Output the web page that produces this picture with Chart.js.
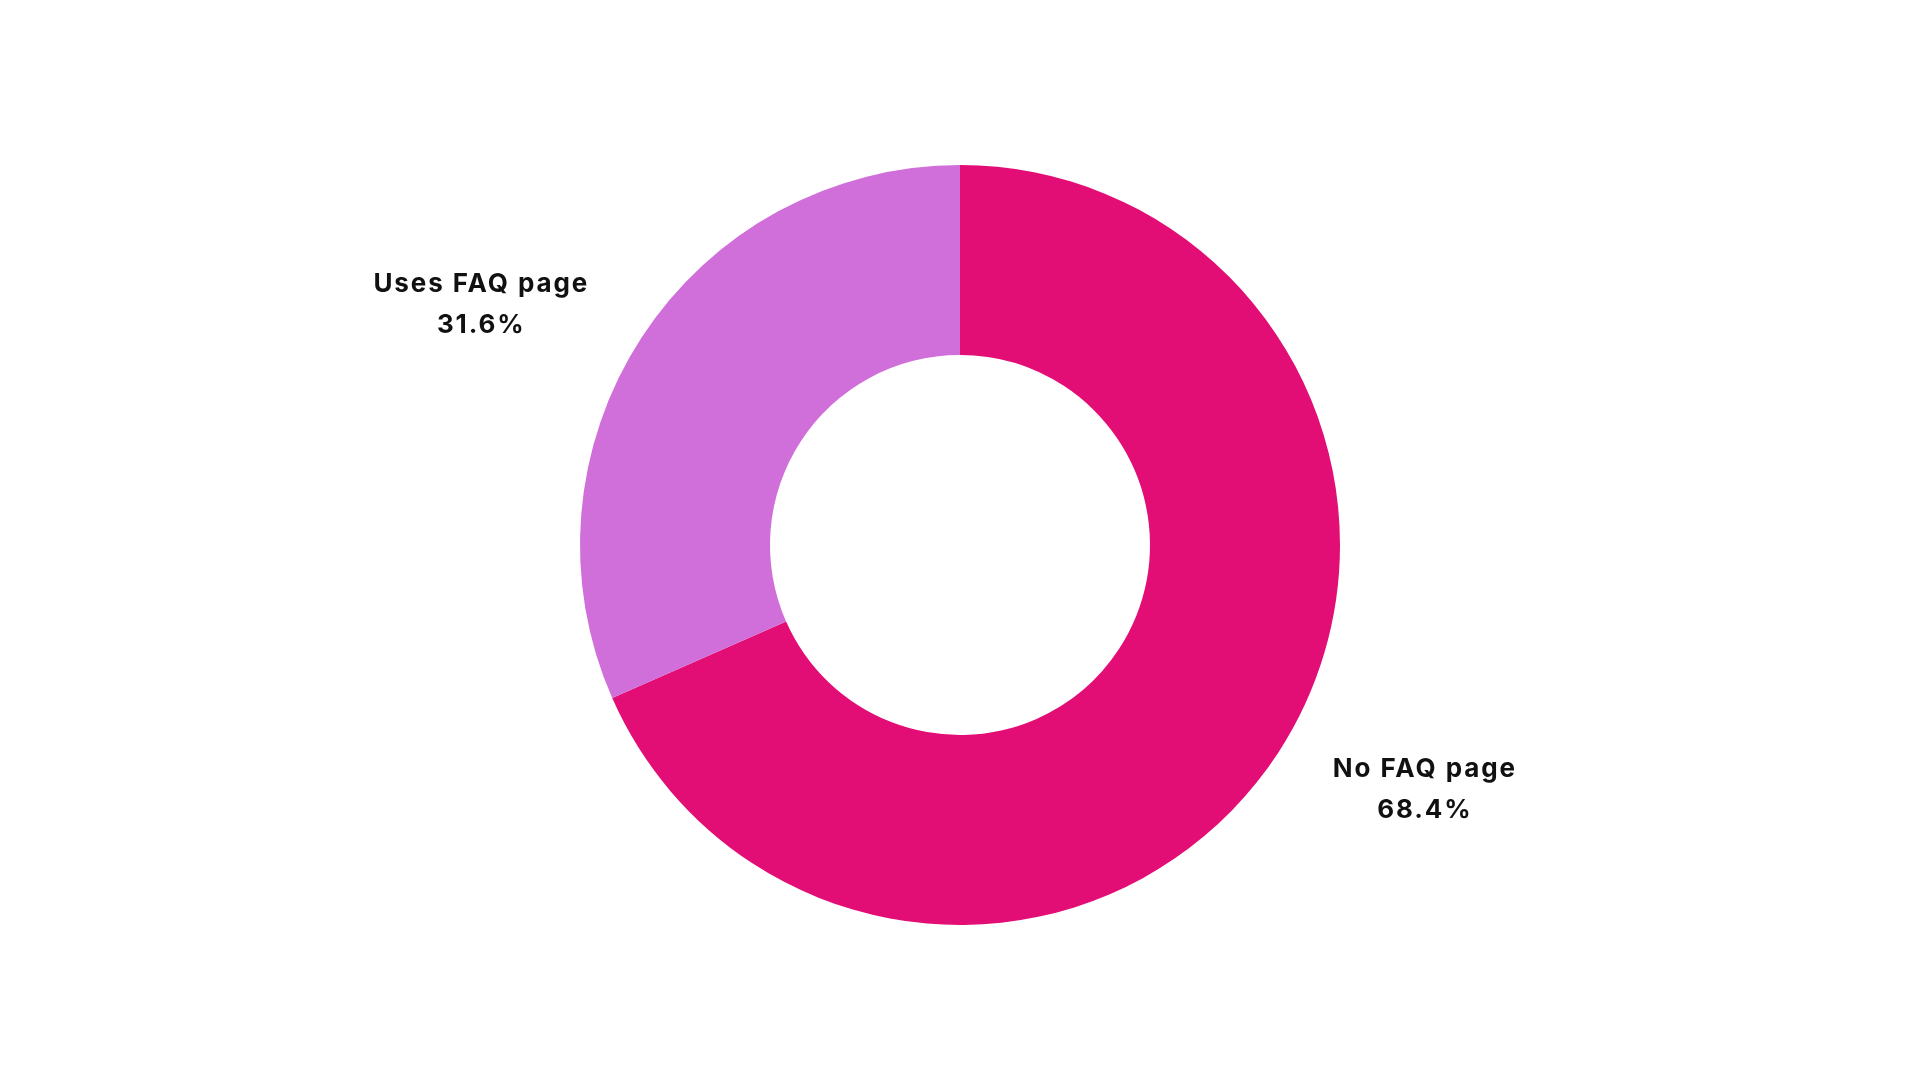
<!DOCTYPE html>
<html>
<head>
<meta charset="utf-8">
<script src="https://cdn.jsdelivr.net/npm/chart.js@4"></script>
<style>
  html, body { margin: 0; padding: 0; background: #fff; }
  #wrap { width: 1920px; height: 1080px; }
</style>
</head>
<body>
<div id="wrap"><canvas id="chart"></canvas></div>
<script>
const labels = ['No FAQ page', 'Uses FAQ page'];
const values = [68.4, 31.6];
const colors = ['#E30D76', '#D06FDA'];

// draws "label / value%" outside each slice
const outsideLabels = {
  id: 'outsideLabels',
  afterDatasetsDraw(chart) {
    const ctx = chart.ctx;
    const meta = chart.getDatasetMeta(0);
    ctx.save();
    ctx.font = '700 26px Inter';
    ctx.letterSpacing = '1.9px';
    ctx.fillStyle = '#111';
    ctx.textAlign = 'center';
    ctx.textBaseline = 'middle';
    meta.data.forEach((arc, i) => {
      const p = arc.getProps(['x', 'y', 'startAngle', 'endAngle', 'outerRadius']);
      const mid = (p.startAngle + p.endAngle) / 2;
      const d = p.outerRadius + 64;
      const ax = p.x + Math.cos(mid) * d;
      const ay = p.y + Math.sin(mid) * d + 2;
      const lines = [labels[i], values[i].toFixed(1) + '%'];
      const w = Math.max(...lines.map(l => ctx.measureText(l).width));
      const cx = Math.cos(mid) >= 0 ? ax + w / 2 : ax - w / 2;
      ctx.fillText(lines[0], cx + 1, ay - 20);
      ctx.fillText(lines[1], cx + 1, ay + 21);
    });
    ctx.restore();
  }
};

new Chart(document.getElementById('chart'), {
  type: 'doughnut',
  data: {
    labels: labels,
    datasets: [{
      data: values,
      backgroundColor: colors,
      borderWidth: 0
    }]
  },
  options: {
    responsive: true,
    maintainAspectRatio: false,
    animation: false,
    cutout: '50%',
    layout: { padding: { top: 165, bottom: 155 } },
    plugins: {
      legend: { display: false },
      tooltip: { enabled: false }
    }
  },
  plugins: [outsideLabels]
});
</script>
</body>
</html>
